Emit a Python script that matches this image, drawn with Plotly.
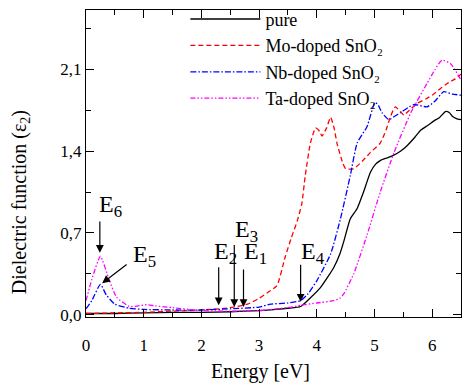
import plotly.graph_objects as go

# Data
pure_E = [0, 0.5, 1, 1.5, 2, 2.5, 3, 3.3, 3.5, 3.72, 3.9, 4.06, 4.2, 4.29, 4.4, 4.47, 4.58, 4.70,
          4.81, 4.93, 5.02, 5.10, 5.2, 5.31, 5.45, 5.57, 5.70, 5.80, 5.92, 6.03, 6.13, 6.23, 6.30,
          6.35, 6.42, 6.5]
pure_v = [0.01, 0.01, 0.015, 0.02, 0.02, 0.025, 0.035, 0.045, 0.055, 0.07, 0.15, 0.23, 0.33, 0.40,
          0.52, 0.63, 0.82, 0.91, 1.05, 1.22, 1.29, 1.32, 1.34, 1.36, 1.40, 1.45, 1.52, 1.58, 1.62,
          1.66, 1.69, 1.74, 1.73, 1.70, 1.68, 1.67]

mo_E = [0, 0.5, 1, 1.5, 2, 2.3, 2.5, 2.8, 3.0, 3.15, 3.31, 3.45, 3.56, 3.66, 3.74, 3.80, 3.89, 3.98,
        4.05, 4.09, 4.17, 4.24, 4.30, 4.35, 4.45, 4.50, 4.64, 4.80, 4.93, 5.10, 5.20, 5.28, 5.36,
        5.45, 5.51, 5.6, 5.74, 5.9, 6.03, 6.15, 6.26, 6.4, 6.5]
mo_v = [0.01, 0.015, 0.02, 0.03, 0.04, 0.05, 0.06, 0.09, 0.14, 0.19, 0.25, 0.49, 0.66, 0.80, 0.95,
        1.19, 1.47, 1.60, 1.57, 1.53, 1.60, 1.69, 1.60, 1.47, 1.30, 1.25, 1.25, 1.32, 1.39, 1.47,
        1.58, 1.70, 1.78, 1.74, 1.71, 1.75, 1.81, 1.85, 1.89, 1.94, 1.98, 2.02, 2.06]

nb_E = [0, 0.1, 0.25, 0.35, 0.5, 0.75, 1.0, 1.5, 2, 2.5, 3.0, 3.2, 3.5, 3.72, 3.85, 4.0, 4.24, 4.41,
        4.58, 4.70, 4.87, 5.01, 5.07, 5.13, 5.25, 5.35, 5.45, 5.68, 5.91, 6.05, 6.2, 6.35, 6.5]
nb_v = [0.05, 0.12, 0.26, 0.17, 0.09, 0.055, 0.045, 0.04, 0.04, 0.05, 0.065, 0.09, 0.10, 0.12, 0.18,
        0.29, 0.52, 0.82, 1.19, 1.47, 1.61, 1.82, 1.79, 1.73, 1.67, 1.70, 1.73, 1.80, 1.78, 1.83,
        1.91, 1.89, 1.88]

ta_E = [0, 0.1, 0.25, 0.4, 0.53, 0.75, 0.9, 1.05, 1.2, 1.5, 2, 2.5, 3, 3.5, 3.72, 4.0, 4.29, 4.4,
        4.47, 4.64, 4.87, 5.10, 5.34, 5.63, 5.91, 6.05, 6.17, 6.32, 6.5]
ta_v = [0.12, 0.30, 0.50, 0.30, 0.15, 0.07, 0.075, 0.085, 0.075, 0.06, 0.035, 0.03, 0.035, 0.06,
        0.08, 0.10, 0.12, 0.14, 0.18, 0.35, 0.68, 1.05, 1.39, 1.73, 1.98, 2.10, 2.18, 2.15, 2.01]

series_names = ["pure", "Mo-doped SnO₂", "Nb-doped SnO₂", "Ta-doped SnO₂"]

x_ticks = [0, 1, 2, 3, 4, 5, 6]
y_ticks = [0.0, 0.7, 1.4, 2.1]

# Arrow markers: label, head energy, head value, tail value
arrow_labels = ["E<sub>6</sub>", "E<sub>2</sub>", "E<sub>3</sub>", "E<sub>1</sub>", "E<sub>4</sub>"]
arrow_E = [0.24, 2.30, 2.57, 2.73, 3.72]
arrow_head = [0.53, 0.08, 0.065, 0.065, 0.11]
arrow_tail = [0.81, 0.42, 0.61, 0.40, 0.44]

FONT = "Liberation Serif"

fig = go.Figure()
styles = [
    dict(color="black", dash="solid"),
    dict(color="#ff0000", dash="5px,3px"),
    dict(color="#0000ff", dash="6px,2px,1.5px,2px"),
    dict(color="#ff00ff", dash="5px,2px,1.5px,2px,1.5px,2px"),
]
for (xs, ys), name, st in zip([(pure_E, pure_v), (mo_E, mo_v), (nb_E, nb_v), (ta_E, ta_v)],
                              series_names, styles):
    fig.add_trace(go.Scatter(x=xs, y=ys, mode="lines", name=name,
                             line=dict(color=st["color"], dash=st["dash"], width=1.3,
                                       shape="spline", smoothing=0.5)))

ann = []
for lab, e, h, t in zip(arrow_labels, arrow_E, arrow_head, arrow_tail):
    ann.append(dict(x=e, y=h, ax=e, ay=t, xref="x", yref="y", axref="x", ayref="y",
                    text="", showarrow=True, arrowhead=2, arrowsize=1.3, arrowwidth=1.2,
                    arrowcolor="black", standoff=0))
# E5 diagonal arrow
ann.append(dict(x=0.28, y=0.27, ax=0.73, ay=0.44, xref="x", yref="y", axref="x", ayref="y",
                text="", showarrow=True, arrowhead=2, arrowsize=1.3, arrowwidth=1.2,
                arrowcolor="black", standoff=0))

label_pos = {"E<sub>6</sub>": (0.19, 0.93), "E<sub>5</sub>": (0.78, 0.50),
             "E<sub>2</sub>": (2.19, 0.53), "E<sub>3</sub>": (2.55, 0.72),
             "E<sub>1</sub>": (2.71, 0.53), "E<sub>4</sub>": (3.70, 0.53)}
for lab, (lx, ly) in label_pos.items():
    ann.append(dict(x=lx, y=ly, xref="x", yref="y", text=lab, showarrow=False,
                    xanchor="left", yanchor="middle", font=dict(family=FONT, size=24, color="black")))

ann.append(dict(x=-0.176, y=0.374, xref="paper", yref="paper", text="Dielectric function (ε<sub>2</sub>)",
                textangle=-90, showarrow=False, xanchor="center", yanchor="middle",
                font=dict(family=FONT, size=20, color="black")))
ann.append(dict(x=0.466, y=-0.177, xref="paper", yref="paper", text="Energy [eV]",
                showarrow=False, xanchor="center", yanchor="middle",
                font=dict(family=FONT, size=20, color="black")))

axis_common = dict(showline=True, linecolor="black", linewidth=1.2, mirror="ticks",
                   ticks="inside", ticklen=8, tickwidth=1.2, tickcolor="black",
                   showgrid=False, zeroline=False,
                   tickfont=dict(family=FONT, size=17, color="black"))

fig.update_layout(
    width=462, height=386,
    margin=dict(l=86, r=1, t=5, b=69),
    plot_bgcolor="white", paper_bgcolor="white",
    separators=", ",
    font=dict(family=FONT, color="black"),
    xaxis=dict(range=[0, 6.5], tickvals=x_ticks, ticktext=[str(v) for v in x_ticks],
               minor=dict(ticks="inside", dtick=0.5, ticklen=5, tickcolor="black"),
               ticklabelstandoff=12, **axis_common),
    yaxis=dict(range=[-0.02, 2.61], tickvals=y_ticks, tickformat=".1f",
               minor=dict(ticks="inside", dtick=0.35, tick0=0, ticklen=5, tickcolor="black"),
               **axis_common),
    legend=dict(x=0.265, y=1.03, xanchor="left", yanchor="top", bgcolor="rgba(0,0,0,0)",
                font=dict(family=FONT, size=18, color="black"), itemwidth=70,
                tracegroupgap=0),
    showlegend=True,
    annotations=ann,
)

fig.write_html("out.html", config={"displayModeBar": False},
               post_script="document.body.style.margin='0px';document.body.style.overflow='hidden';")
